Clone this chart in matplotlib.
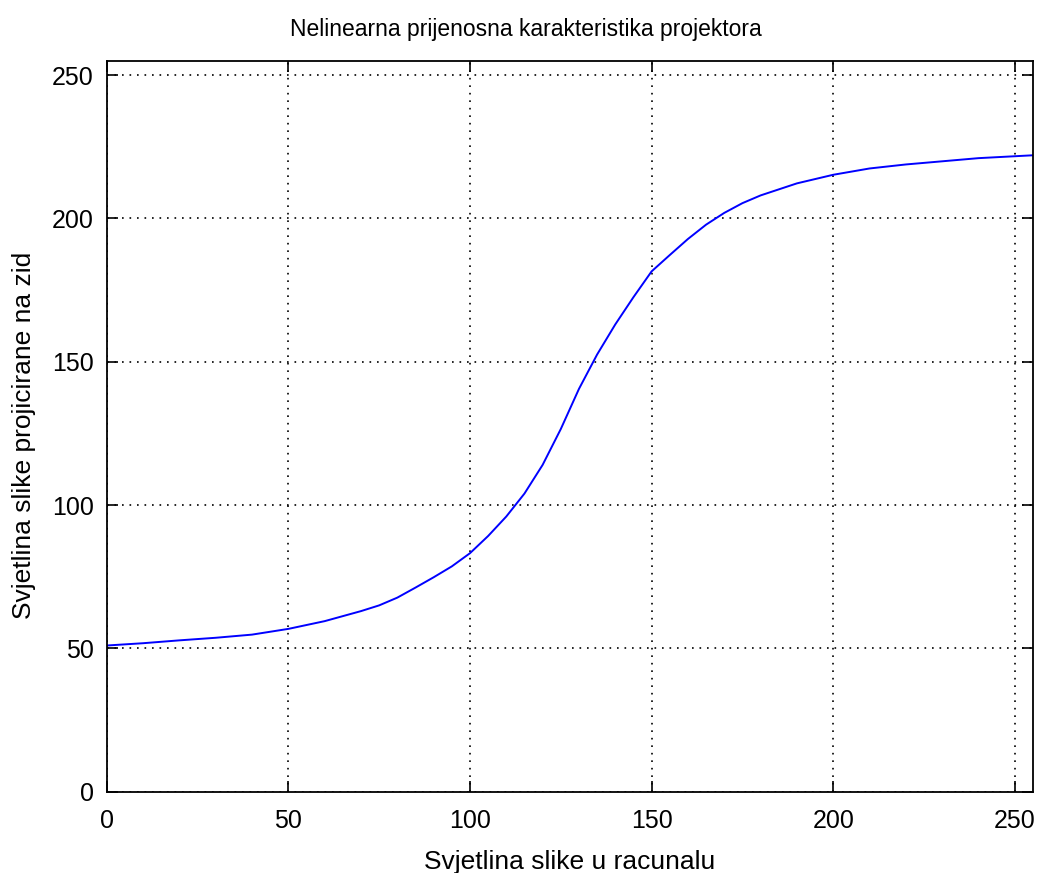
import numpy as np
import matplotlib.pyplot as plt

# svjetlina slike u racunalu (ulaz) i projicirana svjetlina (izlaz)
ulaz = [0, 10, 20, 30, 40, 50, 60, 70, 75, 80, 85, 90, 95, 100, 105, 110,
        115, 120, 125, 130, 135, 140, 145, 150, 155, 160, 165, 170, 175, 180,
        190, 200, 210, 220, 230, 240, 255]
izlaz = [51.0, 51.8, 52.8, 53.7, 54.8, 56.8, 59.5, 63.0, 65.0, 67.7, 71.2,
         74.8, 78.6, 83.2, 89.2, 96.0, 104.0, 114.0, 126.5, 140.5, 152.5,
         163.0, 172.5, 181.5, 187.2, 192.8, 197.8, 201.9, 205.3, 208.0, 212.2,
         215.2, 217.4, 218.8, 219.9, 221.0, 222.0]

xticks = [0, 50, 100, 150, 200, 250]
yticks = [0, 50, 100, 150, 200, 250]

plt.rcParams['font.family'] = ['Liberation Sans', 'DejaVu Sans']

fig = plt.figure(figsize=(10.38, 8.73), dpi=100)
ax = fig.add_axes([0.1028, 0.0931, 0.8924, 0.8374])

ax.plot(ulaz, izlaz, color='#0000ff', lw=1.4)
ax.set_xlim(0, 255)
ax.set_ylim(0, 255)
ax.set_xticks(xticks)
ax.set_yticks(yticks)
ax.grid(True, color='black', linestyle=(0, (1, 3.5)), linewidth=1.2)
ax.tick_params(direction='in', length=8, width=1.2, top=True, right=True,
               labelsize=18)
ax.tick_params(axis='x', pad=12.5)
ax.tick_params(axis='y', pad=9.5)
for s in ax.spines.values():
    s.set_linewidth(1.3)

ax.set_title('Nelinearna prijenosna karakteristika projektora', fontsize=16.5,
             pad=18, x=0.4525)
ax.set_xlabel('Svjetlina slike u racunalu', fontsize=19, labelpad=12)
ax.set_ylabel('Svjetlina slike projicirane na zid', fontsize=19)
ax.yaxis.set_label_coords(-0.076, 0.488)

fig.savefig('out.png', dpi=100)
